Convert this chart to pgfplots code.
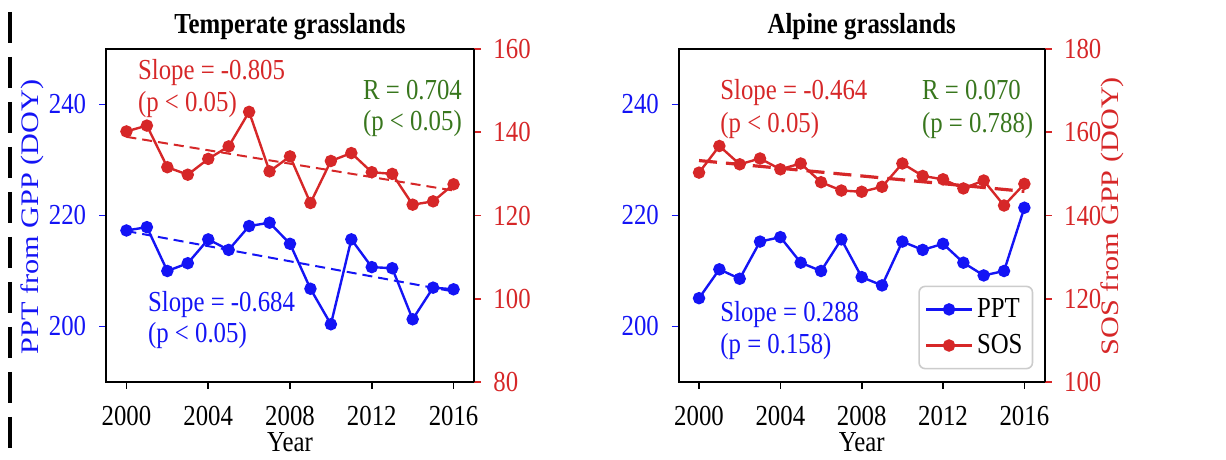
\documentclass[border=0pt]{standalone}
\usepackage{fontspec}
\setmainfont{Liberation Serif}[FakeStretch=0.855]
\newfontfamily\rotfont{Liberation Serif}[FakeStretch=1.2]
\usepackage{pgfplots}
\pgfplotsset{compat=1.18}
\definecolor{cb}{RGB}{20,20,245}
\definecolor{cr}{RGB}{214,39,40}
\definecolor{cg}{RGB}{56,118,29}
\newcommand\f{\fontsize{14.5pt}{17pt}\selectfont}
\newcommand\rf{\rotfont\fontsize{12.6pt}{15pt}\selectfont}

\pgfplotstableread{
year ppt sos
2000 217.3 140.2
2001 217.9 141.6
2002 210.0 131.6
2003 211.4 129.8
2004 215.7 133.6
2005 213.8 136.6
2006 218.1 144.9
2007 218.7 130.6
2008 214.9 134.2
2009 206.8 123.0
2010 200.4 133.1
2011 215.7 135.0
2012 210.7 130.4
2013 210.5 130.0
2014 201.3 122.6
2015 207.0 123.4
2016 206.7 127.5
}\temperate

\pgfplotstableread{
year ppt sos
2000 205.1 150.3
2001 210.3 156.7
2002 208.6 152.3
2003 215.3 153.7
2004 216.1 151.1
2005 211.5 152.5
2006 210.0 148.0
2007 215.7 146.0
2008 208.9 145.7
2009 207.4 146.9
2010 215.3 152.5
2011 213.8 149.5
2012 214.9 148.7
2013 211.5 146.5
2014 209.2 148.4
2015 210.0 142.4
2016 221.4 147.6
}\alpine

\pgfplotsset{
  base/.style={scale only axis, height=166.5pt, xmin=1999, xmax=2017,
    major tick length=3.5pt, tick align=outside,
    tick style={line width=0.8pt},
    /pgf/number format/assume math mode=true,
    /pgf/number format/1000 sep={},
    ticklabel style={font=\f},
    axis line style={line width=1pt},
    clip=false},
  leftax/.style={base, ymin=190, ymax=250, ytick={200,220,240},
    xtick={2000,2004,...,2016}, xtick pos=bottom, ytick pos=left,
    yticklabel style={text=cb, xshift=-2.9pt},
    y tick style={cb, line width=0.8pt},
    x tick style={black, line width=0.8pt},
    xticklabel style={yshift=-5.2pt}},
  rightax/.style={base, axis y line*=right, axis x line=none,
    yticklabel style={text=cr, xshift=2.7pt},
    y tick style={cr, line width=0.8pt}},
  ppt/.style={cb, line width=1.2pt, mark=*, mark size=2.5pt, mark options={solid}},
  sos/.style={cr, line width=1.2pt, mark=*, mark size=2.5pt, mark options={solid}},
}

\begin{document}
\begin{tikzpicture}
\path[use as bounding box] (0,0) rectangle (613pt,230pt);

% decorative dashed separator at left
\draw[black, line width=1.6pt, dash pattern=on 15.5pt off 7pt] (5pt,224pt) -- (5pt,2pt);

% ---------- Panel 1: Temperate grasslands ----------
\begin{axis}[leftax, width=184pt, at={(53pt,39pt)}, anchor=south west]
\addplot[ppt] table[x=year, y=ppt] {\temperate};
\addplot[cb, line width=1pt, dash pattern=on 5pt off 3pt] coordinates {(2000,217.2) (2016,206.3)};
\end{axis}
\begin{axis}[rightax, width=184pt, at={(53pt,39pt)}, anchor=south west,
  ymin=80, ymax=160, ytick={80,100,...,160}]
\addplot[sos] table[x=year, y=sos] {\temperate};
\addplot[cr, line width=1pt, dash pattern=on 5pt off 3pt] coordinates {(2000,138.9) (2016,126.0)};
\end{axis}

% ---------- Panel 2: Alpine grasslands ----------
\begin{axis}[leftax, width=183pt, at={(339.35pt,39pt)}, anchor=south west]
\addplot[ppt] table[x=year, y=ppt] {\alpine};
\end{axis}
\begin{axis}[rightax, width=183pt, at={(339.35pt,39pt)}, anchor=south west,
  ymin=100, ymax=180, ytick={100,120,...,180},
  legend style={at={(1,0)}, anchor=south east, xshift=-5.7pt, yshift=6.3pt,
    draw=black!20, line width=0.8pt, rounded corners=3pt, fill=white, font=\f,
    row sep=3pt, inner xsep=3pt, inner ysep=4pt},
  legend cell align=left,
  legend image code/.code={\draw[mark repeat=2, mark phase=2, #1] plot coordinates {(0cm,0cm) (0.4cm,0cm) (0.8cm,0cm)};}]
\addlegendimage{ppt}
\addlegendentry{PPT}
\addplot[sos] table[x=year, y=sos] {\alpine};
\addlegendentry{SOS}
\addplot[cr, line width=1.6pt, dash pattern=on 9pt off 4.5pt, forget plot] coordinates {(2000,153.2) (2016,145.8)};
\end{axis}

% ---------- titles, axis labels, annotations ----------
\node[anchor=base, font=\f\bfseries] at (145pt,213.35pt) {Temperate grasslands};
\node[anchor=base, font=\f\bfseries] at (430.85pt,213.35pt) {Alpine grasslands};

\node[anchor=base, font=\f, inner sep=0pt] at (145pt,4pt) {Year};
\node[anchor=base, font=\f, inner sep=0pt] at (430.85pt,4pt) {Year};

\node[rotate=90, text=cb, inner sep=0pt] at (16pt,121.5pt) {\rf PPT from GPP (DOY)};
\node[rotate=90, text=cr, inner sep=0pt] at (556.25pt,122pt) {\rf SOS from GPP (DOY)};

\begin{scope}[every node/.style={anchor=base west, inner sep=0pt, font=\f}]
\node[text=cr] at (68.85pt,190pt) {Slope = -0.805};
\node[text=cr] at (68.85pt,174.15pt) {(p \textless{} 0.05)};
\node[text=cg] at (181.35pt,180pt) {R = 0.704};
\node[text=cg] at (181.35pt,164.75pt) {(p \textless{} 0.05)};
\node[text=cb] at (73.85pt,74.15pt) {Slope = -0.684};
\node[text=cb] at (73.85pt,58.5pt) {(p \textless{} 0.05)};

\node[text=cr] at (360pt,180pt) {Slope = -0.464};
\node[text=cr] at (360pt,163.5pt) {(p \textless{} 0.05)};
\node[text=cg] at (460.85pt,180pt) {R = 0.070};
\node[text=cg] at (460.85pt,163.5pt) {(p = 0.788)};
\node[text=cb] at (360pt,69.15pt) {Slope = 0.288};
\node[text=cb] at (360pt,53pt) {(p = 0.158)};
\end{scope}
\end{tikzpicture}
\end{document}
